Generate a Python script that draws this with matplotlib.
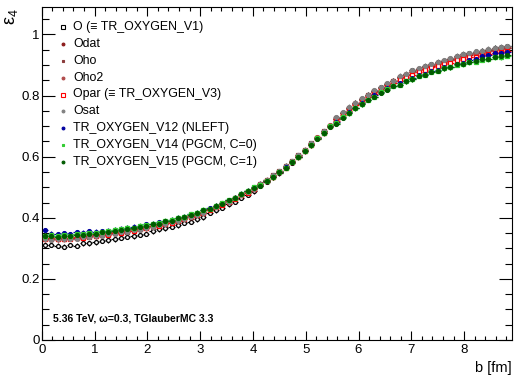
import matplotlib
matplotlib.use("Agg")
import matplotlib.pyplot as plt
from matplotlib.ticker import MultipleLocator, FuncFormatter
import numpy as np

plt.rcParams['font.family'] = ['Liberation Sans', 'DejaVu Sans']
plt.rcParams['mathtext.fontset'] = 'custom'
plt.rcParams['mathtext.rm'] = 'Liberation Sans'
plt.rcParams['mathtext.it'] = 'Liberation Sans:italic'

# ---------------- data ----------------
b_centers = [0.06, 0.18, 0.30, 0.42, 0.54, 0.66, 0.78, 0.90, 1.02, 1.14,
             1.26, 1.38, 1.50, 1.62, 1.74, 1.86, 1.98, 2.10, 2.22, 2.34,
             2.46, 2.58, 2.70, 2.82, 2.94, 3.06, 3.18, 3.30, 3.42, 3.54,
             3.66, 3.78, 3.90, 4.02, 4.14, 4.26, 4.38, 4.50, 4.62, 4.74,
             4.86, 4.98, 5.10, 5.22, 5.34, 5.46, 5.58, 5.70, 5.82, 5.94,
             6.06, 6.18, 6.30, 6.42, 6.54, 6.66, 6.78, 6.90, 7.02, 7.14,
             7.26, 7.38, 7.50, 7.62, 7.74, 7.86, 7.98, 8.10, 8.22, 8.34,
             8.46, 8.58, 8.70, 8.82]

eps_O = [0.311, 0.312, 0.308, 0.306, 0.311, 0.309, 0.317, 0.316, 0.320, 0.325,
         0.327, 0.330, 0.335, 0.337, 0.339, 0.345, 0.347, 0.356, 0.362, 0.365,
         0.371, 0.375, 0.383, 0.387, 0.395, 0.402, 0.416, 0.424, 0.433, 0.444,
         0.452, 0.465, 0.476, 0.487, 0.504, 0.517, 0.533, 0.546, 0.563, 0.581,
         0.599, 0.618, 0.640, 0.661, 0.683, 0.702, 0.725, 0.744, 0.760, 0.776,
         0.790, 0.803, 0.815, 0.828, 0.838, 0.849, 0.862, 0.870, 0.883, 0.888,
         0.897, 0.902, 0.910, 0.914, 0.920, 0.929, 0.935, 0.938, 0.944, 0.947,
         0.950, 0.957, 0.958, 0.962]

eps_Odat = [0.334, 0.333, 0.332, 0.335, 0.334, 0.338, 0.339, 0.341, 0.343, 0.347,
            0.349, 0.354, 0.355, 0.360, 0.362, 0.365, 0.371, 0.373, 0.379, 0.382,
            0.389, 0.392, 0.400, 0.405, 0.412, 0.420, 0.429, 0.436, 0.447, 0.454,
            0.466, 0.475, 0.488, 0.497, 0.510, 0.522, 0.538, 0.551, 0.569, 0.584,
            0.604, 0.621, 0.643, 0.661, 0.683, 0.702, 0.723, 0.742, 0.757, 0.774,
            0.787, 0.800, 0.812, 0.825, 0.835, 0.847, 0.858, 0.868, 0.876, 0.886,
            0.892, 0.898, 0.906, 0.910, 0.917, 0.924, 0.931, 0.933, 0.939, 0.941,
            0.946, 0.949, 0.954, 0.955]

eps_Oho = [0.333, 0.330, 0.332, 0.331, 0.334, 0.334, 0.338, 0.338, 0.342, 0.343,
           0.348, 0.349, 0.354, 0.355, 0.360, 0.362, 0.368, 0.371, 0.377, 0.380,
           0.387, 0.390, 0.398, 0.402, 0.411, 0.416, 0.428, 0.434, 0.445, 0.452,
           0.464, 0.473, 0.486, 0.494, 0.511, 0.523, 0.539, 0.552, 0.570, 0.585,
           0.605, 0.622, 0.644, 0.662, 0.684, 0.702, 0.727, 0.743, 0.761, 0.774,
           0.790, 0.801, 0.815, 0.825, 0.838, 0.847, 0.862, 0.869, 0.880, 0.886,
           0.895, 0.900, 0.908, 0.912, 0.919, 0.926, 0.933, 0.935, 0.941, 0.943,
           0.949, 0.951, 0.956, 0.957]

eps_Oho2 = [0.332, 0.334, 0.331, 0.334, 0.333, 0.337, 0.337, 0.341, 0.341, 0.346,
            0.347, 0.352, 0.353, 0.358, 0.359, 0.365, 0.367, 0.374, 0.376, 0.383,
            0.386, 0.393, 0.397, 0.405, 0.410, 0.419, 0.427, 0.437, 0.444, 0.455,
            0.463, 0.476, 0.485, 0.497, 0.509, 0.524, 0.536, 0.553, 0.567, 0.586,
            0.602, 0.623, 0.641, 0.663, 0.681, 0.703, 0.724, 0.744, 0.758, 0.775,
            0.787, 0.802, 0.812, 0.826, 0.835, 0.848, 0.859, 0.870, 0.877, 0.887,
            0.892, 0.901, 0.905, 0.913, 0.916, 0.927, 0.930, 0.936, 0.938, 0.944,
            0.946, 0.952, 0.953, 0.958]

eps_Opar = [0.330, 0.331, 0.329, 0.332, 0.331, 0.335, 0.335, 0.339, 0.339, 0.344,
            0.345, 0.350, 0.351, 0.356, 0.357, 0.363, 0.365, 0.372, 0.374, 0.381,
            0.384, 0.391, 0.395, 0.403, 0.408, 0.417, 0.424, 0.434, 0.441, 0.452,
            0.460, 0.473, 0.482, 0.494, 0.506, 0.521, 0.533, 0.550, 0.564, 0.583,
            0.599, 0.620, 0.638, 0.660, 0.678, 0.700, 0.717, 0.737, 0.751, 0.768,
            0.780, 0.795, 0.805, 0.819, 0.828, 0.841, 0.850, 0.861, 0.868, 0.878,
            0.883, 0.892, 0.896, 0.904, 0.907, 0.916, 0.919, 0.925, 0.927, 0.933,
            0.935, 0.941, 0.942, 0.947]

eps_Osat = [0.330, 0.328, 0.330, 0.329, 0.332, 0.332, 0.336, 0.336, 0.340, 0.342,
            0.347, 0.348, 0.353, 0.354, 0.359, 0.361, 0.367, 0.370, 0.376, 0.379,
            0.386, 0.389, 0.397, 0.401, 0.410, 0.415, 0.428, 0.434, 0.445, 0.452,
            0.464, 0.473, 0.486, 0.494, 0.512, 0.523, 0.539, 0.552, 0.570, 0.585,
            0.605, 0.622, 0.644, 0.662, 0.684, 0.702, 0.729, 0.745, 0.763, 0.776,
            0.792, 0.803, 0.817, 0.827, 0.840, 0.849, 0.865, 0.872, 0.883, 0.889,
            0.898, 0.903, 0.911, 0.915, 0.922, 0.930, 0.937, 0.939, 0.945, 0.947,
            0.953, 0.955, 0.960, 0.961]

eps_V12 = [0.360, 0.348, 0.346, 0.349, 0.347, 0.352, 0.351, 0.356, 0.355, 0.356,
           0.358, 0.361, 0.364, 0.367, 0.371, 0.373, 0.379, 0.380, 0.385, 0.389,
           0.394, 0.400, 0.404, 0.412, 0.417, 0.425, 0.431, 0.440, 0.447, 0.458,
           0.466, 0.479, 0.488, 0.500, 0.508, 0.522, 0.535, 0.551, 0.566, 0.584,
           0.600, 0.620, 0.639, 0.660, 0.679, 0.699, 0.713, 0.729, 0.746, 0.760,
           0.776, 0.787, 0.801, 0.811, 0.824, 0.833, 0.840, 0.849, 0.856, 0.866,
           0.871, 0.880, 0.884, 0.892, 0.895, 0.903, 0.906, 0.917, 0.921, 0.929,
           0.932, 0.938, 0.940, 0.943]

eps_V14 = [0.342, 0.343, 0.340, 0.343, 0.342, 0.346, 0.346, 0.350, 0.350, 0.355,
           0.356, 0.361, 0.362, 0.367, 0.368, 0.374, 0.376, 0.381, 0.383, 0.390,
           0.393, 0.400, 0.404, 0.412, 0.417, 0.426, 0.430, 0.440, 0.447, 0.458,
           0.466, 0.479, 0.488, 0.500, 0.506, 0.521, 0.533, 0.550, 0.564, 0.583,
           0.599, 0.620, 0.638, 0.660, 0.678, 0.699, 0.709, 0.729, 0.743, 0.760,
           0.772, 0.787, 0.797, 0.811, 0.820, 0.833, 0.836, 0.847, 0.854, 0.864,
           0.869, 0.878, 0.882, 0.890, 0.893, 0.900, 0.903, 0.909, 0.911, 0.917,
           0.919, 0.925, 0.926, 0.931]

eps_V15 = [0.339, 0.340, 0.338, 0.341, 0.340, 0.344, 0.344, 0.348, 0.348, 0.352,
           0.353, 0.358, 0.359, 0.364, 0.365, 0.371, 0.373, 0.379, 0.381, 0.388,
           0.391, 0.398, 0.402, 0.410, 0.415, 0.424, 0.429, 0.439, 0.446, 0.457,
           0.465, 0.478, 0.487, 0.499, 0.505, 0.520, 0.532, 0.549, 0.563, 0.582,
           0.598, 0.619, 0.637, 0.659, 0.677, 0.698, 0.708, 0.728, 0.742, 0.759,
           0.771, 0.786, 0.796, 0.810, 0.819, 0.832, 0.836, 0.847, 0.854, 0.864,
           0.869, 0.878, 0.882, 0.890, 0.893, 0.902, 0.905, 0.911, 0.913, 0.919,
           0.921, 0.927, 0.928, 0.933]

labels = ["O (≡ TR_OXYGEN_V1)", "Odat", "Oho", "Oho2", "Opar (≡ TR_OXYGEN_V3)",
          "Osat", "TR_OXYGEN_V12 (NLEFT)", "TR_OXYGEN_V14 (PGCM, C=0)",
          "TR_OXYGEN_V15 (PGCM, C=1)"]
series = [eps_O, eps_Odat, eps_Oho, eps_Oho2, eps_Opar, eps_Osat, eps_V12, eps_V14, eps_V15]
colors = ["#000000", "#8b1a1a", "#8b3c3c", "#b04a4a", "#ff0000", "#808080",
          "#0000a0", "#33cc33", "#005a00"]
markers = ["o", "o", "s", "o", "s", "o", "o", "s", "o"]
filled = [False, True, True, True, False, True, True, True, True]
y_err = 0.008
x_err = 0.06

# ---------------- figure ----------------
W, H = 523, 379
fig = plt.figure(figsize=(W / 100, H / 100), dpi=100)
L, R, T, Bt = 41.7, 511.7, 7.0, 340.0
ax = fig.add_axes([L / W, (H - Bt) / H, (R - L) / W, (Bt - T) / H])

for s, c, m, f in zip(series, colors, markers, filled):
    ax.errorbar(b_centers, s, yerr=y_err, xerr=x_err, fmt='none', ecolor=c,
                elinewidth=0.9, capsize=0, zorder=2)
    ax.plot(b_centers, s, linestyle='none', marker=m, markersize=2.8,
            markeredgewidth=0.9, markeredgecolor=c,
            markerfacecolor=(c if f else 'white'), zorder=3)

ax.set_xlim(0, 8.9)
ax.set_ylim(0, 1.09)
ax.xaxis.set_major_locator(MultipleLocator(1))
ax.xaxis.set_minor_locator(MultipleLocator(0.2))
ax.yaxis.set_major_locator(MultipleLocator(0.2))
ax.yaxis.set_minor_locator(MultipleLocator(0.05))
ax.yaxis.set_major_formatter(FuncFormatter(lambda v, p: ("%g" % round(v, 2))))
ax.xaxis.set_major_formatter(FuncFormatter(lambda v, p: ("%g" % round(v, 2))))

ax.tick_params(axis='both', which='both', direction='in', top=True, right=True,
               colors='black', width=0.8, labelsize=9.5)
ax.tick_params(axis='y', which='major', length=9.6, pad=1.6)
ax.tick_params(axis='y', which='minor', length=4.8)
ax.tick_params(axis='x', which='major', length=6.5, pad=3.0)
ax.tick_params(axis='x', which='minor', length=3.2)
for sp in ax.spines.values():
    sp.set_linewidth(0.8)

# legend drawn manually (ROOT TLegend style, no frame)
mx = (62.7 - L) / (R - L)
tx = (73.3 - L) / (R - L)
for k, (lab, c, m, f) in enumerate(zip(labels, colors, markers, filled)):
    ypx = 27.3 + 16.8 * k
    ya = (Bt - ypx) / (Bt - T)
    ax.plot([mx], [ya], transform=ax.transAxes, linestyle='none',
            marker=('s' if m == 's' or not f else 'o'),
            markersize=(2.4 if not f else 2.0), markeredgewidth=0.8,
            markeredgecolor=c, markerfacecolor=(c if f else 'white'),
            clip_on=False, zorder=5)
    ax.text(tx, ya, lab, transform=ax.transAxes, fontsize=8.9, va='center',
            ha='left', color='black')

ax.text((52.7 - L) / (R - L), (Bt - 318.5) / (Bt - T),
        "5.36 TeV, ω=0.3, TGlauberMC 3.3", transform=ax.transAxes,
        fontsize=7.5, fontweight='bold', va='center', ha='left')

fig.text(R / W, 1 - 368 / H, "b [fm]", ha='right', va='center', fontsize=10.5)
fig.text(12 / W, 1 - 8 / H, r"$\mathrm{\varepsilon}_{4}$", ha='center', va='top',
         rotation=90, fontsize=13)

fig.savefig("out.png", dpi=100)
